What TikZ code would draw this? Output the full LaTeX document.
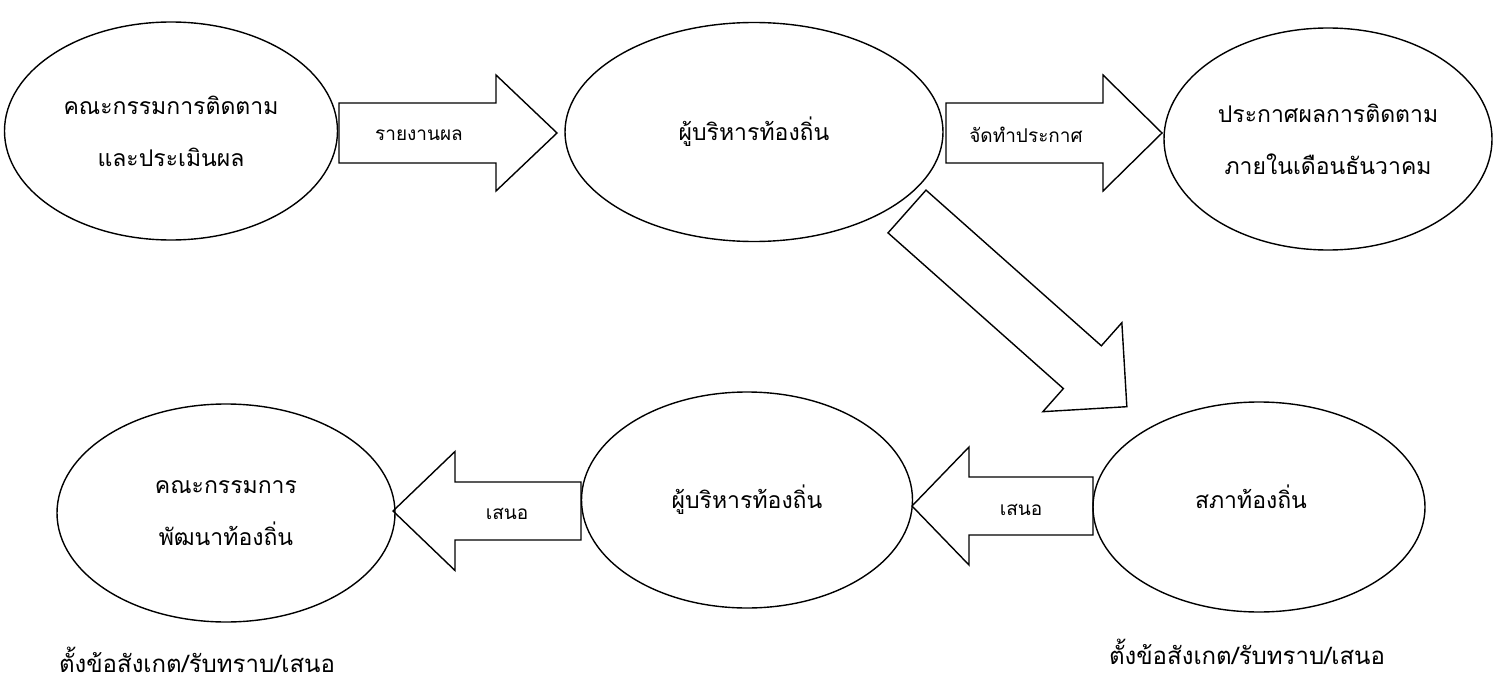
\documentclass[tikz,border=0pt]{standalone}
\usepackage{fontspec}
\setmainfont[Script=Thai]{Loma}
\usetikzlibrary{shapes.geometric}
\newcommand\blockarrow[6]{% tail, angle, length, shaft half, head half, head length
  \draw[blk,shift={(#1)},rotate=#2] (0,#4) -- ({#3-#6},#4) -- ({#3-#6},#5) -- (#3,0)
    -- ({#3-#6},-#5) -- ({#3-#6},-#4) -- (0,-#4) -- cycle;}
\begin{document}
\begin{tikzpicture}[x=1pt,y=-1pt,
  oval/.style={draw,line width=1.4pt,ellipse,inner sep=0pt,align=center,
    font=\fontsize{23}{52}\selectfont},
  otext/.style={inner sep=0pt,font=\fontsize{23}{52}\selectfont},
  blk/.style={draw,line width=1.4pt,line join=miter},
  lbl/.style={inner sep=0pt,font=\fontsize{19}{22}\selectfont},
  note/.style={inner sep=0pt,font=\fontsize{24}{28}\selectfont}]
\useasboundingbox (0,0) rectangle (1493,682);
% ellipses
\node[oval,minimum width=333pt,minimum height=218pt] (e1) at (171,131) {คณะกรรมการติดตาม\\และประเมินผล};
\node[oval,minimum width=378pt,minimum height=219pt] (e2) at (754,132) {ผู้บริหารท้องถิ่น};
\node[oval,minimum width=328pt,minimum height=222pt] (e3) at (1328,139) {ประกาศผลการติดตาม\\ภายในเดือนธันวาคม};
\node[oval,minimum width=338pt,minimum height=218pt] (e4) at (226,513) {คณะกรรมการ\\พัฒนาท้องถิ่น};
\node[oval,minimum width=331pt,minimum height=216pt] (e5) at (747,500) {ผู้บริหารท้องถิ่น};
\node[oval,minimum width=332pt,minimum height=210pt] (e6) at (1259,507) {};
\node[otext] (e6t) at (1251,497) {สภาท้องถิ่น};
% arrow tails
\coordinate (t1) at (339,133);
\coordinate (t2) at (946,133);
\coordinate (t3) at (907,211.5);
\coordinate (t4) at (1093,506);
\coordinate (t5) at (581,511);
\blockarrow{t1}{0}{218}{30}{58}{61}
\blockarrow{t2}{0}{216}{30}{58}{59}
\blockarrow{t3}{-41.6}{294}{28.6}{59.5}{59.5}
\blockarrow{t4}{180}{181}{29}{59}{57}
\blockarrow{t5}{180}{188}{29}{59.5}{62}
% arrow labels
\node[lbl] (l1) at (419,135) {รายงานผล};
\node[lbl] (l2) at (1026,135) {จัดทำประกาศ};
\node[lbl] (l3) at (1021,510) {เสนอ};
\node[lbl] (l4) at (507,514) {เสนอ};
% notes
\node[note] (n1) at (197,660) {ตั้งข้อสังเกต/รับทราบ/เสนอ};
\node[note] (n2) at (1247,652) {ตั้งข้อสังเกต/รับทราบ/เสนอ};
\end{tikzpicture}
\end{document}
